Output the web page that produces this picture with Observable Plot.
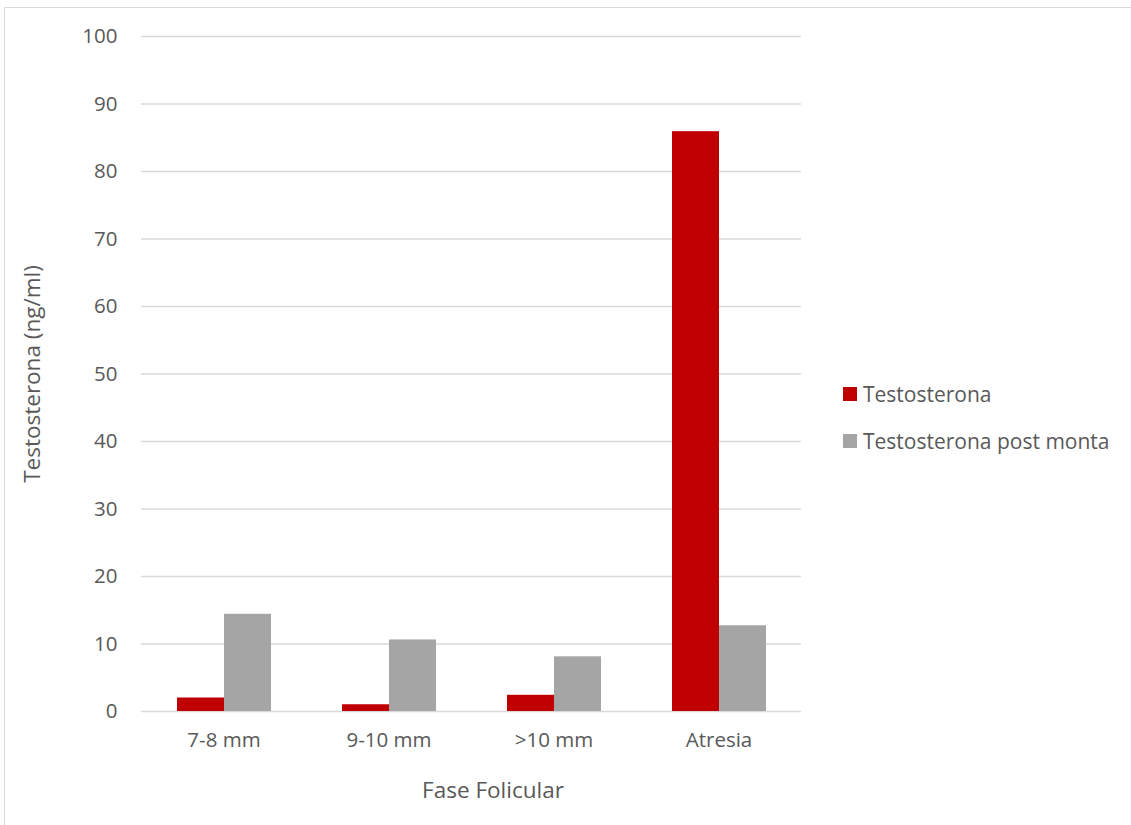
<!DOCTYPE html>
<html>
<head>
<meta charset="utf-8">
<script src="https://cdn.jsdelivr.net/npm/d3@7"></script>
<script src="https://cdn.jsdelivr.net/npm/@observablehq/plot@0.6"></script>
<style>
  html, body { margin: 0; padding: 0; background: #fff; }
  #wrap { position: relative; width: 1131px; height: 825px; overflow: hidden; font-family: "Open Sans", sans-serif; color: #595959; }
  #frame { position: absolute; left: 4px; top: 7px; width: 1140px; height: 840px; border: 1px solid #d9d9d9; box-sizing: border-box; }
  #chart { position: absolute; left: 0; top: 0; }
  .title { position: absolute; font-size: 22.5px; white-space: nowrap; line-height: 1; }
  #ytitle { left: 32px; top: 374px; transform: translate(-50%, -50%) rotate(-90deg); }
  #xtitle { left: 493px; top: 790px; transform: translate(-50%, -50%); }
  #legend { position: absolute; left: 843px; top: 382px; font-size: 21px; }
  .item { display: flex; align-items: center; height: 24px; margin-bottom: 23px; white-space: nowrap; }
  .sw { width: 14px; height: 14px; margin-right: 6px; }
</style>
</head>
<body>
<div id="wrap">
  <div id="frame"></div>
  <div id="chart"></div>
  <div class="title" id="ytitle">Testosterona (ng/ml)</div>
  <div class="title" id="xtitle">Fase Folicular</div>
  <div id="legend"></div>
</div>
<script>
const categories = ["7-8 mm", "9-10 mm", ">10 mm", "Atresia"];
const series = ["Testosterona", "Testosterona post monta"];
const testosterona = [2.0, 1.0, 2.4, 85.9];
const postMonta = [14.4, 10.6, 8.1, 12.7];
const yTicks = [0, 10, 20, 30, 40, 50, 60, 70, 80, 90, 100];
const colors = ["#C00000", "#A5A5A5"];

const data = categories.flatMap((c, i) => [
  {cat: c, series: series[0], value: testosterona[i]},
  {cat: c, series: series[1], value: postMonta[i]}
]);

const chart = Plot.plot({
  width: 1131,
  height: 825,
  marginLeft: 140,
  marginRight: 329,
  marginTop: 36,
  marginBottom: 114,
  style: {fontFamily: "Open Sans, sans-serif", fontSize: "20.5px", color: "#595959", background: "transparent"},
  fx: {domain: categories, padding: 0, label: null, tickSize: 0, tickPadding: 21},
  x: {domain: series, paddingInner: 0, paddingOuter: 0.72, axis: null},
  y: {domain: [0, 100], ticks: yTicks, label: null, tickSize: 0, tickPadding: 24},
  color: {domain: series, range: colors},
  marks: [
    Plot.ruleY(yTicks, {stroke: "#d9d9d9", strokeWidth: 1.5}),
    Plot.barY(data, {fx: "cat", x: "series", y: "value", fill: "series"})
  ]
});
document.getElementById("chart").appendChild(chart);

const legend = document.getElementById("legend");
series.forEach((s, i) => {
  const it = document.createElement("div");
  it.className = "item";
  it.innerHTML = `<div class="sw" style="background:${colors[i]}"></div><span>${s}</span>`;
  legend.appendChild(it);
});
</script>
</body>
</html>
